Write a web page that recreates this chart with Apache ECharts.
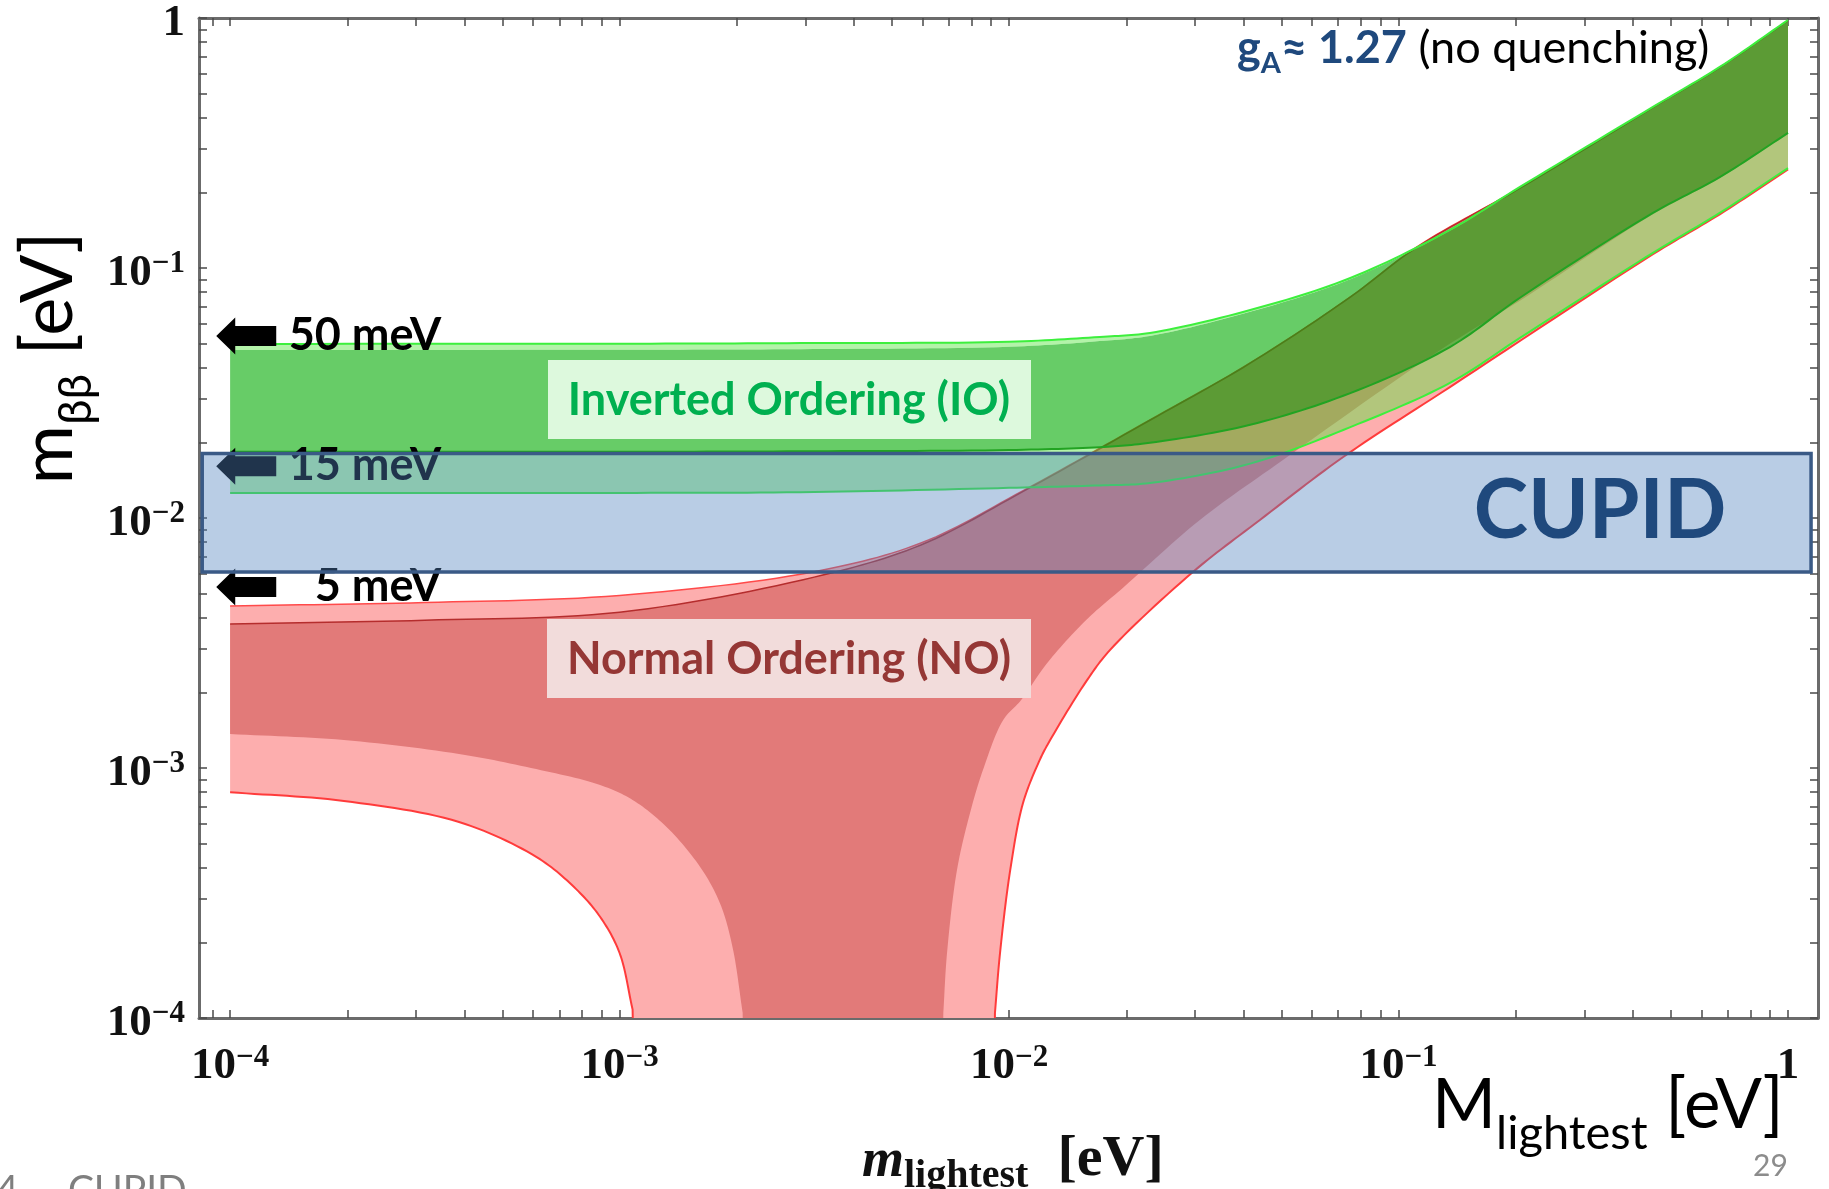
<!DOCTYPE html>
<html>
<head>
<meta charset="utf-8">
<script src="https://cdn.jsdelivr.net/npm/echarts@6/dist/echarts.min.js"></script>
<style>html,body{margin:0;padding:0;background:#fff;overflow:hidden}#c{width:1829px;height:1189px}</style>
</head>
<body>
<div id="c"></div>
<script>
// ---------------- data (eV) ----------------
const xRange = [8.32e-5, 1.194];
const yRange = [1e-4, 1];
const tickExponents = [-4, -3, -2, -1, 0];

// Inverted ordering (green)
const ioOuterUpper = [[1e-4,0.0497],[1e-3,0.0498],[3.16e-3,0.0501],[0.01,0.0507],[0.0171,0.053],[0.023,0.055],[0.0416,0.0679],[0.0752,0.0912],[0.1355,0.142],[0.205,0.211],[0.45,0.441],[0.668,0.637],[1,0.982]];
const ioInnerUpper = [[1e-4,0.0470],[1e-3,0.0471],[3.16e-3,0.0474],[0.01,0.0484],[0.0171,0.051],[0.023,0.0535],[0.0416,0.0668],[0.0752,0.0902],[0.1355,0.141],[0.205,0.210],[0.45,0.439],[0.668,0.635],[1,0.979]];
const ioInnerLower = [[1e-4,0.0184],[1e-3,0.0184],[3.16e-3,0.0185],[0.01,0.0187],[0.0171,0.0192],[0.023,0.020],[0.0416,0.0236],[0.0752,0.0316],[0.1355,0.0483],[0.205,0.0760],[0.45,0.166],[0.668,0.231],[1,0.347]];
const ioOuterLower = [[1e-4,0.0126],[1e-3,0.0126],[3.16e-3,0.0127],[0.01,0.0132],[0.0171,0.0135],[0.023,0.0138],[0.0416,0.0165],[0.0752,0.0231],[0.1355,0.0347],[0.205,0.0525],[0.45,0.115],[0.668,0.166],[1,0.251]];

// Normal ordering (red); 0 = band reaches zero
const noOuterUpper = [[1e-4,0.00445],[3.16e-4,0.00459],[1e-3,0.0049],[3.16e-3,0.0061],[5.94e-3,0.00794],[0.0109,0.0129],[0.023,0.0247],[0.0416,0.0417],[0.0752,0.0766],[0.111,0.121],[0.205,0.209],[0.45,0.439],[0.668,0.634],[1,0.977]];
const noInnerUpper = [[1e-4,0.00377],[3.16e-4,0.0039],[1e-3,0.0042],[3.16e-3,0.0058],[5.94e-3,0.0078],[0.0109,0.0128],[0.023,0.0246],[0.0416,0.0416],[0.0752,0.0765],[0.111,0.1205],[0.205,0.2085],[0.45,0.438],[0.668,0.633],[1,0.976]];
const noInnerLower = [[1e-4,1.368e-3],[1.96e-4,1.294e-3],[3.87e-4,1.138e-3],[6.11e-4,9.9e-4],[8.91e-4,8.55e-4],[1.08e-3,7.45e-4],[1.32e-3,5.81e-4],[1.61e-3,4.02e-4],[1.81e-3,2.88e-4],[1.95e-3,1.92e-4],[2.07e-3,1.05e-4],[2.1e-3,0],[6.7e-3,0],[6.78e-3,1.05e-4],[6.93e-3,1.82e-4],[7.35e-3,3.91e-4],[7.94e-3,6.61e-4],[8.57e-3,9.82e-4],[9.66e-3,1.556e-3],[1.074e-2,1.87e-3],[1.253e-2,2.63e-3],[1.578e-2,3.91e-3],[1.972e-2,5.3e-3],[3.09e-2,9.82e-3],[5.05e-2,1.706e-2],[0.128,0.047],[0.205,0.074],[0.45,0.164],[0.668,0.229],[1,0.344]];
const noOuterLower = [[1e-4,8.0e-4],[1.96e-4,7.38e-4],[3.87e-4,6.08e-4],[6.11e-4,4.41e-4],[7.64e-4,3.34e-4],[8.91e-4,2.54e-4],[1.0e-3,1.82e-4],[1.08e-3,1.08e-4],[1.1e-3,0],[9.1e-3,0],[9.2e-3,1.05e-4],[9.48e-3,1.82e-4],[1.007e-2,3.91e-4],[1.086e-2,7.24e-4],[1.2e-2,1.08e-3],[1.274e-2,1.29e-3],[1.578e-2,2.22e-3],[1.815e-2,2.96e-3],[2.965e-2,6.08e-3],[4.406e-2,9.82e-3],[7.21e-2,1.754e-2],[0.1355,0.0334],[0.45,0.1135],[0.668,0.164],[1,0.248]];

// CUPID sensitivity box
const cupidX = [8.48e-5, 1.146];
const cupidY = [0.00608, 0.0181];

// reference arrows
const arrowX = 1.1e-4;
const arrowLevels = [0.0535, 0.0161, 0.0053];
const arrowLabels = ['50 meV', '15 meV', '5 meV'];

// ---------------- helpers ----------------
const FLOOR = -4.6;
const lx = v => Math.log10(v);
const ly = v => (v > 0 ? Math.log10(v) : FLOOR);

// centripetal Catmull-Rom drawing of a boundary in pixel space (rendering only)
function crSegment(p0, p1, p2, p3, n) {
  const d = (p, q) => Math.max(Math.sqrt(Math.hypot(q[0] - p[0], q[1] - p[1])), 1e-6);
  const t0 = 0, t1 = t0 + d(p0, p1), t2 = t1 + d(p1, p2), t3 = t2 + d(p2, p3);
  const mix = (a, b, ta, tb, t) => [
    ((tb - t) * a[0] + (t - ta) * b[0]) / (tb - ta),
    ((tb - t) * a[1] + (t - ta) * b[1]) / (tb - ta)];
  const out = [];
  for (let i = 1; i <= n; i++) {
    const t = t1 + (t2 - t1) * i / n;
    const A1 = mix(p0, p1, t0, t1, t), A2 = mix(p1, p2, t1, t2, t), A3 = mix(p2, p3, t2, t3, t);
    const B1 = mix(A1, A2, t0, t2, t), B2 = mix(A2, A3, t1, t3, t);
    out.push(mix(B1, B2, t1, t2, t));
  }
  return out;
}
function drawBoundary(arr, api) {
  const px = arr.map(p => api.coord([lx(p[0]), ly(p[1])]));
  const pos = arr.map(p => p[1] > 0);
  const out = [px[0]];
  for (let i = 0; i < px.length - 1; i++) {
    if (pos[i] && pos[i + 1]) {
      const p1 = px[i], p2 = px[i + 1];
      const p0 = (i > 0 && pos[i - 1]) ? px[i - 1] : [2 * p1[0] - p2[0], 2 * p1[1] - p2[1]];
      const p3 = (i + 2 < px.length && pos[i + 2]) ? px[i + 2] : [2 * p2[0] - p1[0], 2 * p2[1] - p1[1]];
      out.push(...crSegment(p0, p1, p2, p3, 14));
    } else {
      out.push(px[i + 1]);
    }
  }
  return out;
}

function logTicks(lo, hi) {
  const out = [];
  for (let n = Math.floor(lo) - 1; n <= Math.ceil(hi); n++) {
    for (let k = 1; k <= 9; k++) {
      const v = n + Math.log10(k);
      if (v >= lo - 1e-9 && v <= hi + 1e-9) out.push(v);
    }
  }
  return out;
}
const xMin = lx(xRange[0]), xMax = lx(xRange[1]);
const yMin = lx(yRange[0]), yMax = lx(yRange[1]);
const xMinor = logTicks(xMin, xMax);
const yMinor = logTicks(yMin, yMax);
const xMajor = tickExponents.filter(e => e >= xMin && e <= xMax);
const yMajor = tickExponents.filter(e => e >= yMin && e <= yMax);

const fmt = v => {
  const e = Math.round(v);
  return e === 0 ? '{b|1}' : '{b|10}{s|\u2212' + (-e) + '}';
};
const richTick = {
  b: { fontFamily: 'Liberation Serif', fontWeight: 'bold', fontSize: 45, lineHeight: 45, color: '#111', verticalAlign: 'bottom' },
  s: { fontFamily: 'Liberation Serif', fontWeight: 'bold', fontSize: 31, lineHeight: 31, color: '#111', verticalAlign: 'bottom', padding: [0, 0, 16, 0] }
};

function polySeries(name, upper, lower, fill, z) {
  return {
    type: 'custom', name, z, silent: true, clip: true, data: [[0, 0]],
    renderItem(params, api) {
      const pts = drawBoundary(upper, api).concat(drawBoundary(lower, api).reverse());
      return { type: 'polygon', shape: { points: pts }, style: { fill } };
    }
  };
}
function edgeSeries(name, arr, color, width, z) {
  return {
    type: 'custom', name, z, silent: true, clip: true, data: [[0, 0]],
    renderItem(params, api) {
      return { type: 'polyline', shape: { points: drawBoundary(arr, api) },
        style: { fill: null, stroke: color, lineWidth: width } };
    }
  };
}

const axisLineStyle = { color: '#6b6b6b', width: 3 };
const tickStyle = { color: '#4a4a4a', width: 1.5 };

const option = {
  animation: false,
  backgroundColor: '#ffffff',
  grid: { left: 199, right: 11, top: 18, bottom: 171, containLabel: false },
  xAxis: [
    { type: 'value', min: xMin, max: xMax, position: 'bottom',
      axisLine: { show: true, onZero: false, lineStyle: axisLineStyle },
      axisTick: { show: true, inside: true, length: 8, customValues: xMinor, lineStyle: tickStyle },
      axisLabel: { show: true, customValues: xMajor, formatter: fmt, rich: richTick, margin: 26 },
      splitLine: { show: false } },
    { type: 'value', min: xMin, max: xMax, position: 'top',
      axisLine: { show: true, onZero: false, lineStyle: axisLineStyle },
      axisTick: { show: true, inside: true, length: 8, customValues: xMinor, lineStyle: tickStyle },
      axisLabel: { show: false }, splitLine: { show: false } }
  ],
  yAxis: [
    { type: 'value', min: yMin, max: yMax, position: 'left',
      axisLine: { show: true, onZero: false, lineStyle: axisLineStyle },
      axisTick: { show: true, inside: true, length: 8, customValues: yMinor, lineStyle: tickStyle },
      axisLabel: { show: true, customValues: yMajor, formatter: fmt, rich: richTick, margin: 14, padding: [10, 0, 0, 0] },
      splitLine: { show: false } },
    { type: 'value', min: yMin, max: yMax, position: 'right',
      axisLine: { show: true, onZero: false, lineStyle: axisLineStyle },
      axisTick: { show: true, inside: true, length: 8, customValues: yMinor, lineStyle: tickStyle },
      axisLabel: { show: false }, splitLine: { show: false } }
  ],
  series: [
    polySeries('NO outer', noOuterUpper, noOuterLower, '#fdaeae', 1),
    polySeries('NO inner', noInnerUpper, noInnerLower, '#e27a79', 2),
    edgeSeries('NO outer upper edge', noOuterUpper, '#ff4a4a', 1.5, 3),
    edgeSeries('NO outer lower edge', noOuterLower, '#ff3b3b', 2, 3),
    edgeSeries('NO inner upper edge', noInnerUpper, '#b52d2d', 1.5, 3),
    polySeries('IO inner', ioInnerUpper, ioInnerLower, 'rgba(14,174,14,0.63)', 4),
    polySeries('IO outer top', ioOuterUpper, ioInnerUpper, 'rgba(87,229,65,0.45)', 4),
    polySeries('IO outer bottom', ioInnerLower, ioOuterLower, 'rgba(87,229,65,0.45)', 4),
    edgeSeries('IO outer upper edge', ioOuterUpper, '#3def3d', 2, 5),
    edgeSeries('IO outer lower edge', ioOuterLower, '#3def3d', 2, 5),
    edgeSeries('IO inner lower edge', ioInnerLower, '#22a322', 2, 5),
    {
      type: 'scatter', name: 'levels', z: 6, silent: true,
      symbol: 'path://M0,18.5 L19,0 L19,8.5 L60,8.5 L60,28.5 L19,28.5 L19,37 Z',
      symbolSize: [60, 37],
      itemStyle: { color: '#000', opacity: 1 },
      data: arrowLevels.map(v => [lx(arrowX), ly(v)]),
      label: { show: true, position: [225, 18], align: 'right', verticalAlign: 'middle',
        formatter: p => arrowLabels[p.dataIndex],
        fontFamily: 'Lato', fontWeight: 'bold', fontSize: 45, color: '#000' }
    },
    {
      type: 'custom', name: 'CUPID', z: 7, silent: true, clip: false, data: [[0, 0]],
      renderItem(params, api) {
        const a = api.coord([lx(cupidX[0]), ly(cupidY[1])]);
        const b = api.coord([lx(cupidX[1]), ly(cupidY[0])]);
        return { type: 'rect', shape: { x: a[0], y: a[1], width: b[0] - a[0], height: b[1] - a[1] },
          style: { fill: 'rgba(79,129,189,0.4)', stroke: '#3a5a86', lineWidth: 3.5 } };
      }
    }
  ],
  graphic: [
    { type: 'rect', z: 50, shape: { x: 548, y: 360, width: 483, height: 79 }, style: { fill: '#ddf9dd' } },
    { type: 'text', z: 51, x: 789, y: 400, style: { text: 'Inverted Ordering (IO)', font: 'bold 45px Lato', fill: '#00b050', align: 'center', verticalAlign: 'middle', textAlign: 'center', textVerticalAlign: 'middle' } },
    { type: 'rect', z: 50, shape: { x: 547, y: 619, width: 484, height: 79 }, style: { fill: '#f2dcdb' } },
    { type: 'text', z: 51, x: 789, y: 659, style: { text: 'Normal Ordering (NO)', font: 'bold 45px Lato', fill: '#953735', align: 'center', verticalAlign: 'middle', textAlign: 'center', textVerticalAlign: 'middle' } },
    { type: 'text', z: 51, x: 1600, y: 512, style: { text: 'CUPID', font: 'bold 82px Lato', fill: '#1f497d', align: 'center', verticalAlign: 'middle', textAlign: 'center', textVerticalAlign: 'middle' } },
    { type: 'text', z: 51, x: 1237, y: 52, style: {
        text: '{g|g}{a|A}{b|\u2248 1.27}{r| (no quenching)}',
        align: 'left', verticalAlign: 'middle', textAlign: 'left', textVerticalAlign: 'middle',
        rich: {
          g: { fontFamily: 'Lato', fontWeight: 'bold', fontSize: 45, fill: '#1f497d', verticalAlign: 'bottom', padding: [0, 0, 8, 0] },
          a: { fontFamily: 'Lato', fontWeight: 'bold', fontSize: 29, fill: '#1f497d', verticalAlign: 'bottom' },
          b: { fontFamily: 'Lato', fontWeight: 'bold', fontSize: 45, fill: '#1f497d', verticalAlign: 'bottom', padding: [0, 0, 8, 0] },
          r: { fontFamily: 'Lato', fontSize: 45, fill: '#000', verticalAlign: 'bottom', padding: [0, 0, 8, 0] }
        } } },
    { type: 'text', z: 51, x: 56, y: 358, rotation: Math.PI / 2, style: {
        text: '{m|m}{s|\u03b2\u03b2}{r| [eV]}',
        align: 'center', verticalAlign: 'middle', textAlign: 'center', textVerticalAlign: 'middle',
        rich: {
          m: { fontFamily: 'Lato', fontSize: 72, fill: '#000', verticalAlign: 'bottom', padding: [0, 0, 14, 0] },
          s: { fontFamily: 'Lato', fontSize: 46, fill: '#000', verticalAlign: 'bottom' },
          r: { fontFamily: 'Lato', fontSize: 72, fill: '#000', verticalAlign: 'bottom', padding: [0, 0, 14, 0] }
        } } },
    { type: 'text', z: 51, x: 1432, y: 1114, style: {
        text: '{m|M}{s|lightest}{r| [eV]}',
        align: 'left', verticalAlign: 'middle', textAlign: 'left', textVerticalAlign: 'middle',
        rich: {
          m: { fontFamily: 'Lato', fontSize: 69, fill: '#000', verticalAlign: 'bottom', padding: [0, 0, 17, 0] },
          s: { fontFamily: 'Lato', fontSize: 47, fill: '#000', verticalAlign: 'bottom' },
          r: { fontFamily: 'Lato', fontSize: 69, fill: '#000', verticalAlign: 'bottom', padding: [0, 0, 17, 0] }
        } } },
    { type: 'text', z: 51, x: 862, y: 1164, style: {
        text: '{m|m}{s|lightest}{r|  [eV]}',
        align: 'left', verticalAlign: 'middle', textAlign: 'left', textVerticalAlign: 'middle',
        rich: {
          m: { fontFamily: 'Liberation Serif', fontStyle: 'italic', fontWeight: 'bold', fontSize: 54, fill: '#111', verticalAlign: 'bottom', padding: [0, 0, 8, 0] },
          s: { fontFamily: 'Liberation Serif', fontWeight: 'bold', fontSize: 40, fill: '#111', verticalAlign: 'bottom' },
          r: { fontFamily: 'Liberation Serif', fontWeight: 'bold', fontSize: 58, fill: '#111', verticalAlign: 'bottom', padding: [0, 0, 8, 0] }
        } } },
    { type: 'text', z: 51, x: 1753, y: 1166, style: { text: '29', font: '30px Lato', fill: '#8c8c8c', align: 'left', verticalAlign: 'middle', textAlign: 'left', textVerticalAlign: 'middle' } },
    { type: 'text', z: 51, x: -4, y: 1190, style: { text: '4', font: '39px Lato', fill: '#7f7f7f', align: 'left', verticalAlign: 'middle', textAlign: 'left', textVerticalAlign: 'middle' } },
    { type: 'text', z: 51, x: 68, y: 1190, style: { text: 'CUPID', font: '39px Lato', fill: '#7f7f7f', align: 'left', verticalAlign: 'middle', textAlign: 'left', textVerticalAlign: 'middle' } }
  ]
};

const chart = echarts.init(document.getElementById('c'), null, { renderer: 'canvas', width: 1829, height: 1189 });
chart.setOption(option);
</script>
</body>
</html>
